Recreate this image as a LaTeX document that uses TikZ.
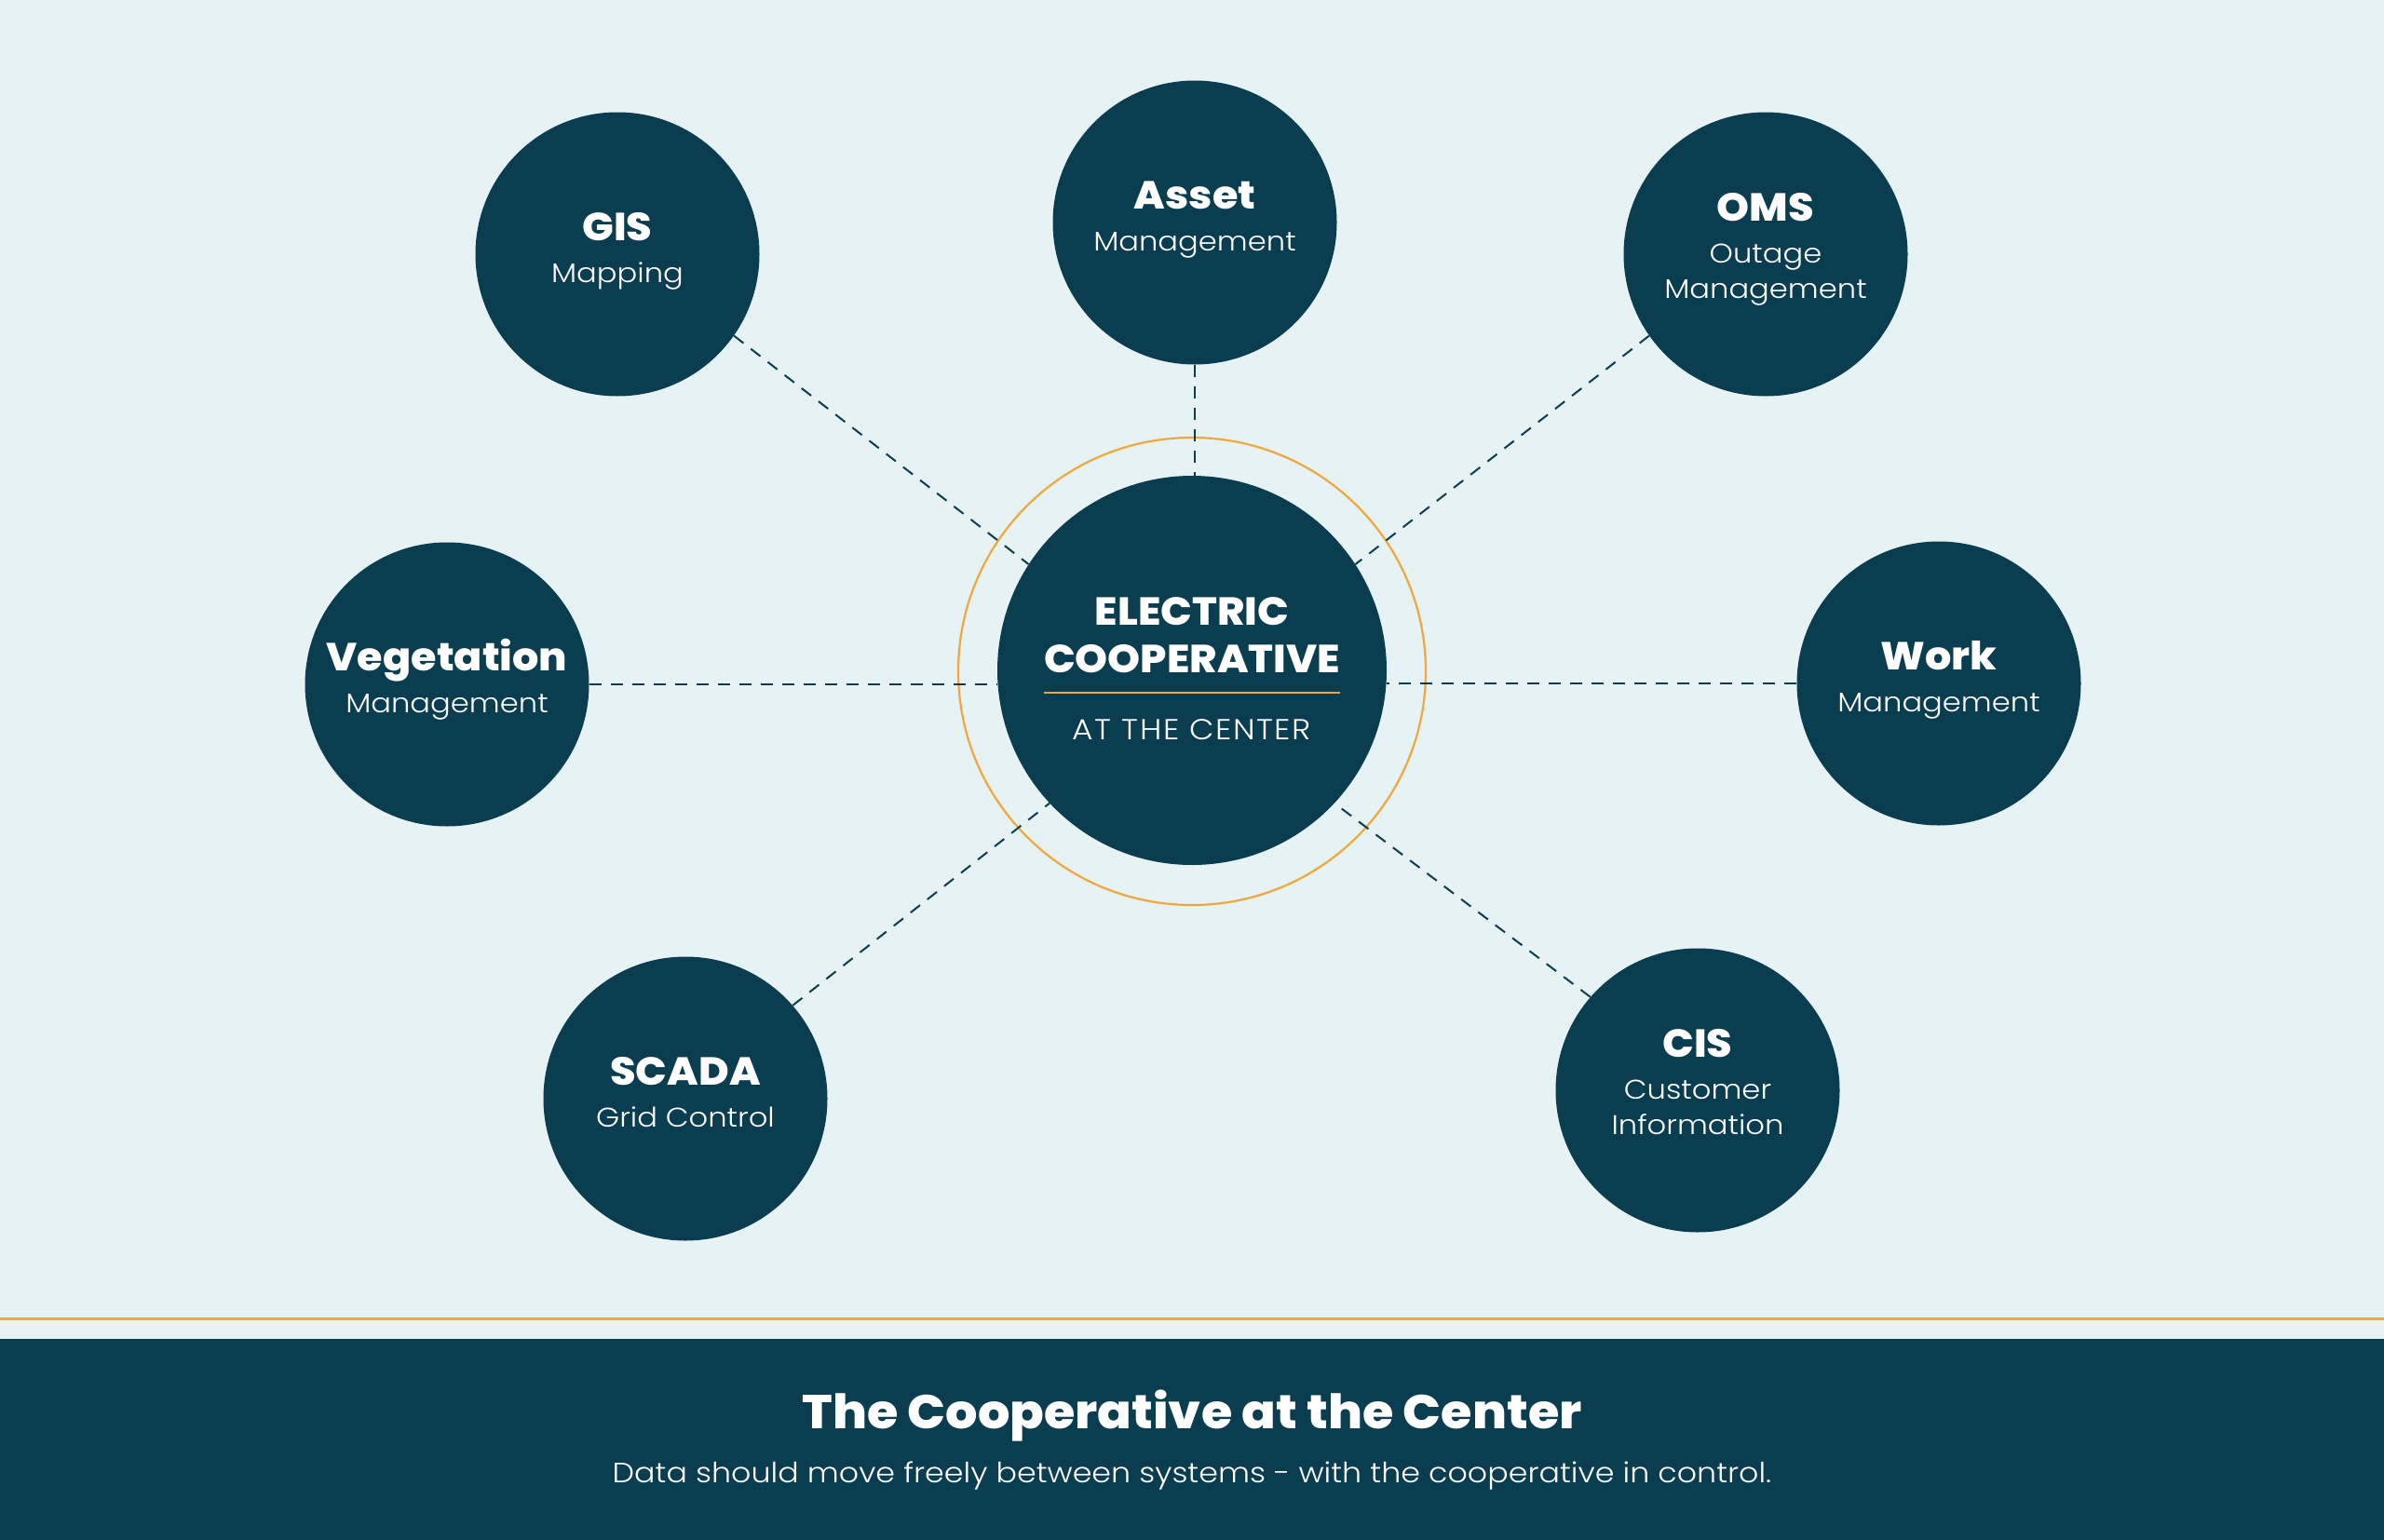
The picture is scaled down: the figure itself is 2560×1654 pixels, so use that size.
\documentclass[tikz,border=0pt]{standalone}
\usepackage{fontspec}
\setmainfont{Poppins}
\newfontfamily\heavy{Poppins ExtraBold}[FakeStretch=1.06]
\newfontfamily\lite{Poppins Light}[FakeStretch=1.11]
\newfontfamily\litewide{Poppins Light}[FakeStretch=1.11,LetterSpace=5]
\usetikzlibrary{calc}
\definecolor{bg}{HTML}{E6F2F4}
\definecolor{navy}{HTML}{0A3D4F}
\definecolor{amber}{HTML}{EEA83E}
\begin{document}
\begin{tikzpicture}[x=1pt,y=-1pt,
  sat/.style={circle,fill=navy,minimum size=305pt,inner sep=0pt},
  hub/.style={circle,fill=navy,minimum size=418pt,inner sep=0pt},
  ring/.style={circle,draw=amber,line width=2.2pt,minimum size=502pt,inner sep=0pt},
  link/.style={draw=navy,line width=2pt,dash pattern=on 13pt off 10pt},
  ttl/.style={text=white,font=\heavy\fontsize{42}{50}\selectfont,anchor=base,inner sep=0pt},
  sub/.style={text=white,font=\lite\fontsize{29}{38}\selectfont,anchor=base,inner sep=0pt}]
\useasboundingbox (0,0) rectangle (2560,1654);
\fill[bg] (0,0) rectangle (2560,1654);
\fill[navy] (0,1438) rectangle (2560,1654);
\draw[amber,line width=3pt] (0,1416) -- (2560,1416);

\node[ring] (ring) at (1280,721) {};
\node[hub] (hub) at (1280,720) {};
\node[sat] (gis) at (663,273) {};
\node[sat] (asset) at (1283,239) {};
\node[sat] (oms) at (1896,273) {};
\node[sat] (veg) at (480,735) {};
\node[sat] (work) at (2082,734) {};
\node[sat] (scada) at (736,1180) {};
\node[sat] (cis) at (1823,1171) {};

\draw[link] (gis.-35) -- (hub.147);
\draw[link] (oms.-145) -- (hub.33);
\draw[link] (asset.south) -- (asset.south |- hub.north);
\draw[link] (veg.east) -- (veg.east -| hub.west);
\draw[link] (work.west) -- (work.west -| hub.east);
\draw[link] (scada.41) -- (hub.-137);
\draw[link] (cis.139) -- (hub.-43);

\node[ttl] (gis-a) at ([yshift=15pt]gis.center) {GIS};
\node[sub] (gis-b) at ([yshift=-30pt]gis.center) {Mapping};
\node[ttl] (asset-a) at ([yshift=15pt]asset.center) {Asset};
\node[sub] (asset-b) at ([yshift=-30pt]asset.center) {Management};
\node[ttl] (oms-a) at ([yshift=36pt]oms.center) {OMS};
\node[sub] (oms-b) at ([yshift=-9pt]oms.center) {Outage};
\node[sub] (oms-c) at ([yshift=-47pt]oms.center) {Management};
\node[ttl] (veg-a) at ([yshift=15pt]veg.center) {Vegetation};
\node[sub] (veg-b) at ([yshift=-30pt]veg.center) {Management};
\node[ttl] (work-a) at ([yshift=15pt]work.center) {Work};
\node[sub] (work-b) at ([yshift=-30pt]work.center) {Management};
\node[ttl] (scada-a) at ([yshift=15pt]scada.center) {SCADA};
\node[sub] (scada-b) at ([yshift=-30pt]scada.center) {Grid Control};
\node[ttl] (cis-a) at ([yshift=36pt]cis.center) {CIS};
\node[sub] (cis-b) at ([yshift=-9pt]cis.center) {Customer};
\node[sub] (cis-c) at ([yshift=-47pt]cis.center) {Information};

\node[ttl] (hub-a) at ([yshift=49pt]hub.center) {ELECTRIC};
\node[ttl] (hub-b) at ([yshift=-2pt]hub.center) {COOPERATIVE};
\draw[amber,line width=2pt] ([yshift=-22pt]hub-b.base west) -- ([yshift=-22pt]hub-b.base east);
\node[sub,font=\litewide\fontsize{31}{38}\selectfont] (hub-c) at ([yshift=-74pt]hub.center) {AT THE CENTER};

\node[ttl,font=\heavy\fontsize{51}{60}\selectfont] (title) at (1280,1534) {The Cooperative at the Center};
\node[sub,font=\lite\fontsize{30}{36}\selectfont] (subtitle) at (1280,1592) {Data should move freely between systems - with the cooperative in control.};
\end{tikzpicture}
\end{document}
